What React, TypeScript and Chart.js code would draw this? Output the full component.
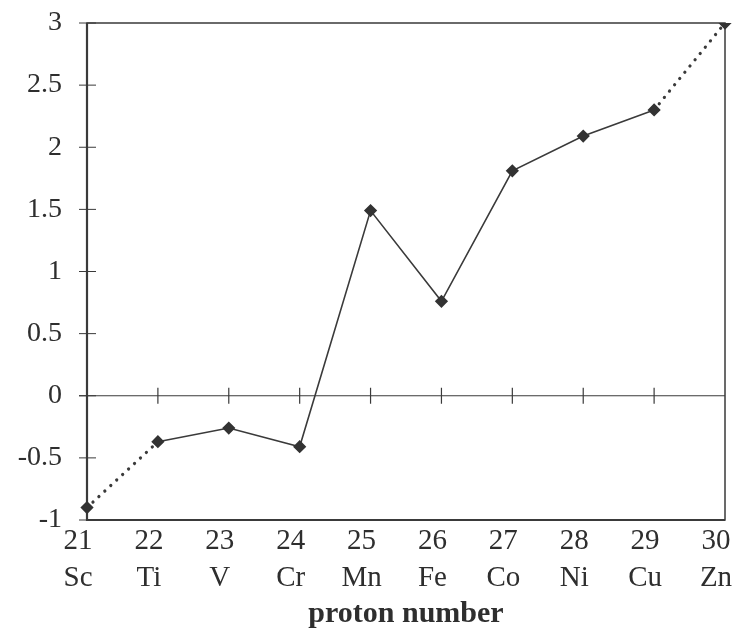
import { useEffect, useRef } from "react";
import { Chart, registerables } from "chart.js";

Chart.register(...registerables);

const protonNumbers = ["21", "22", "23", "24", "25", "26", "27", "28", "29", "30"];
const elements = ["Sc", "Ti", "V", "Cr", "Mn", "Fe", "Co", "Ni", "Cu", "Zn"];
const values = [-0.9, -0.37, -0.26, -0.41, 1.49, 0.76, 1.81, 2.09, 2.3, 3.0];
const yMin = -1;
const yMax = 3;
const yStep = 0.5;
const xTitle = "proton number";

const INK = "#2e2e2e";
const SERIF = "'Liberation Serif', 'DejaVu Serif', serif";

const framePlugin = {
  id: "frame",
  beforeDatasetsDraw(chart: any) {
    const { ctx, chartArea: a, scales } = chart;
    const x = scales.x;
    const y = scales.y;
    ctx.save();
    ctx.strokeStyle = "#3a3a3a";
    ctx.lineWidth = 1.5;
    ctx.strokeRect(a.left, a.top, a.right - a.left, a.bottom - a.top);
    ctx.lineWidth = 2.2;
    ctx.beginPath();
    ctx.moveTo(a.left, a.top);
    ctx.lineTo(a.left, a.bottom);
    ctx.lineTo(a.right, a.bottom);
    ctx.stroke();
    // y tick marks crossing the left axis
    ctx.lineWidth = 1;
    y.ticks.forEach((t: any) => {
      const py = y.getPixelForValue(t.value);
      ctx.beginPath();
      ctx.moveTo(a.left - 8, py);
      ctx.lineTo(a.left + 9, py);
      ctx.stroke();
    });
    // zero line with crossing ticks
    const y0 = y.getPixelForValue(0);
    ctx.lineWidth = 1.2;
    ctx.beginPath();
    ctx.moveTo(a.left - 8, y0);
    ctx.lineTo(a.right, y0);
    ctx.stroke();
    for (let i = 1; i < protonNumbers.length - 1; i++) {
      const px = x.getPixelForValue(i);
      ctx.beginPath();
      ctx.moveTo(px, y0 - 8);
      ctx.lineTo(px, y0 + 8);
      ctx.stroke();
    }
    ctx.restore();
  },
};

export default function App() {
  const ref = useRef<HTMLCanvasElement | null>(null);

  useEffect(() => {
    if (!ref.current) return;
    const labels = protonNumbers.map((n, i) => [n, elements[i]]);
    const last = values.length - 1;
    const isDotted = (c: any) => c.p0DataIndex === 0 || c.p1DataIndex === last;
    const chart = new Chart(ref.current, {
      type: "line",
      data: {
        labels,
        datasets: [
          {
            data: values,
            borderColor: "#3a3a3a",
            borderWidth: 1.6,
            pointStyle: "rectRot",
            pointRadius: 5.5,
            pointBackgroundColor: "#333",
            pointBorderColor: "#333",
            tension: 0,
            segment: {
              borderDash: (c: any) => (isDotted(c) ? [0.1, 8] : undefined),
              borderWidth: (c: any) => (isDotted(c) ? 3.2 : undefined),
              borderCapStyle: (c: any) => (isDotted(c) ? "round" : undefined),
            },
          },
        ],
      },
      options: {
        animation: false,
        responsive: true,
        maintainAspectRatio: false,
        layout: { padding: { top: 23, right: 11, left: 0, bottom: 0 } },
        plugins: {
          legend: { display: false },
          tooltip: { enabled: false },
        },
        scales: {
          x: {
            type: "category",
            offset: false,
            grid: { display: false, drawTicks: false },
            border: { display: false },
            ticks: {
              color: INK,
              font: { family: SERIF, size: 29, lineHeight: 1.28 },
              padding: 3,
              labelOffset: -9,
              maxRotation: 0,
              autoSkip: false,
            },
            title: {
              display: true,
              text: xTitle,
              color: INK,
              font: { family: SERIF, size: 30, weight: "bold", lineHeight: 1.0 },
              padding: { top: 0, bottom: 4 },
            },
            afterFit: (s: any) => {
              s.height = 113;
              s.paddingLeft = 0;
              s.paddingRight = 0;
            },
          },
          y: {
            min: yMin,
            max: yMax,
            grid: { display: false, drawTicks: false },
            border: { display: false },
            ticks: {
              stepSize: yStep,
              color: INK,
              font: { family: SERIF, size: 28 },
              padding: 25,
              callback: (v: any) => String(Number(v)),
            },
            afterFit: (s: any) => {
              s.width = 87;
              s.paddingTop = 0;
              s.paddingBottom = 0;
            },
          },
        },
      },
      plugins: [framePlugin],
    });
    return () => chart.destroy();
  }, []);

  return (
    <div
      style={{
        position: "fixed",
        left: 0,
        top: 0,
        width: 736,
        height: 633,
        background: "#fff",
      }}
    >
      <canvas ref={ref} />
    </div>
  );
}
